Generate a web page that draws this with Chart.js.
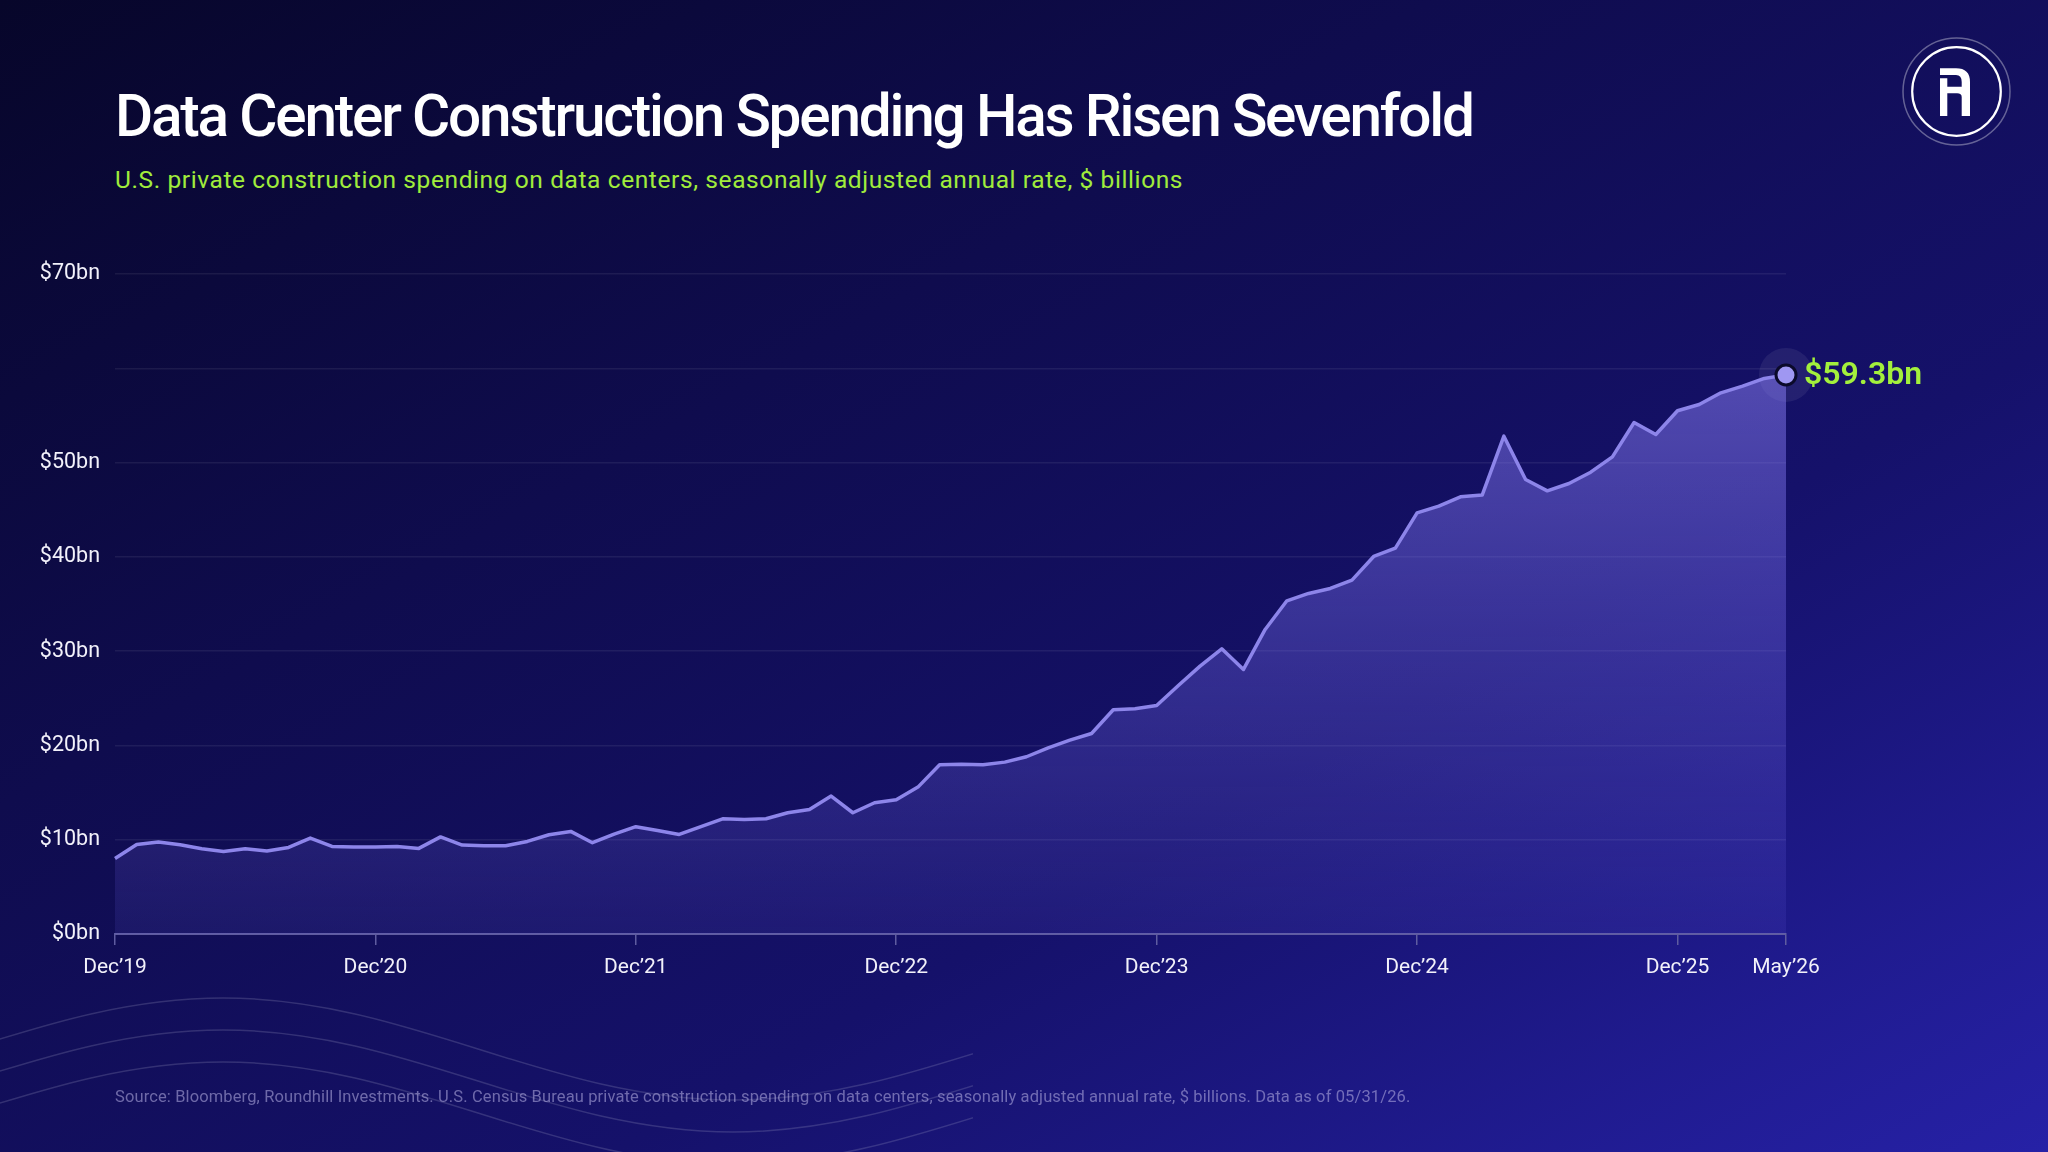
<!DOCTYPE html>
<html>
<head>
<meta charset="utf-8">
<script src="https://cdn.jsdelivr.net/npm/chart.js@4.4.1/dist/chart.umd.min.js"></script>
<style>
  html, body { margin: 0; padding: 0; width: 2048px; height: 1152px; overflow: hidden; }
  body {
    position: relative;
    font-family: Roboto, "Noto Sans", sans-serif;
    background: linear-gradient(to bottom right, #07062a 0%, #0f0c4e 35%, #15116a 65%, #2621a6 100%);
  }
  #waves { position: absolute; left: 0; top: 0; }
  #chart { position: absolute; left: 0; top: 0; }
  .title {
    position: absolute; left: 115px; top: 87px; margin: 0;
    font-size: 58.5px; line-height: 58.5px; font-weight: 500; color: #ffffff;
    letter-spacing: -2.2px; white-space: nowrap;
  }
  .subtitle {
    position: absolute; left: 115px; top: 167.5px;
    font-size: 24.5px; line-height: 24.5px; color: #a0ec3c;
    letter-spacing: 0.6px; white-space: nowrap;
  }
  .note {
    position: absolute; left: 115px; top: 1089px;
    font-size: 16.5px; line-height: 16.5px; color: rgba(185, 180, 230, 0.55);
    letter-spacing: 0.12px; white-space: nowrap;
  }
  #logo { position: absolute; left: 1896px; top: 32px; }
</style>
</head>
<body>

<svg id="waves" width="2048" height="1152">
  <defs><clipPath id="waveClip"><rect x="0" y="900" width="973" height="252"/></clipPath></defs>
  <g clip-path="url(#waveClip)" fill="none" stroke="rgba(175,175,205,0.22)" stroke-width="1.5">
    <path d="M -287 1100 C -101 1100 37 998 223 998 C 409 998 547 1100 733 1100 C 919 1100 1057 998 1243 998"/>
    <path d="M -287 1132 C -101 1132 37 1030 223 1030 C 409 1030 547 1132 733 1132 C 919 1132 1057 1030 1243 1030"/>
    <path d="M -287 1164 C -101 1164 37 1062 223 1062 C 409 1062 547 1164 733 1164 C 919 1164 1057 1062 1243 1062"/>
  </g>
</svg>

<h1 class="title">Data Center Construction Spending Has Risen Sevenfold</h1>
<div class="subtitle">U.S. private construction spending on data centers, seasonally adjusted annual rate, $ billions</div>

<canvas id="chart" width="2048" height="1152"></canvas>

<div class="note">Source: Bloomberg, Roundhill Investments. U.S. Census Bureau private construction spending on data centers, seasonally adjusted annual rate, $ billions. Data as of 05/31/26.</div>

<svg id="logo" width="120" height="120" viewBox="1896 32 120 120">
  <circle cx="1956.5" cy="91.5" r="53.5" fill="none" stroke="rgba(255,255,255,0.35)" stroke-width="1.5"/>
  <circle cx="1956.5" cy="91.5" r="44.3" fill="none" stroke="#ffffff" stroke-width="2.2"/>
  <path fill="#ffffff" d="M1940 68.3 H1956 Q1970 68.3 1970 82 V116 H1961.7 V97 Q1961.7 93.3 1957 93.3 H1947.3 V116 H1940 V78.3 H1947.3 V86.7 H1961.7 V82 Q1961.7 75 1956 75 H1940 Z"/>
</svg>

<script>
// --- monthly data, Dec'19 .. May'26 ($bn, SAAR) ---
const spending = [
  8.0, 9.5, 9.75, 9.47, 9.05, 8.76, 9.05, 8.8, 9.18, 10.17, 9.29, 9.22,
  9.22, 9.29, 9.08, 10.3, 9.43, 9.36, 9.36, 9.82, 10.53, 10.88, 9.68, 10.6,
  11.38, 10.98, 10.56, 11.38, 12.22, 12.15, 12.22, 12.86, 13.21, 14.63, 12.86, 13.92,
  14.24, 15.58, 17.95, 18.0, 17.95, 18.23, 18.8, 19.75, 20.57, 21.27, 23.78, 23.9,
  24.24, 26.36, 28.41, 30.25, 28.06, 32.3, 35.34, 36.12, 36.65, 37.53, 40.04, 40.92,
  44.67, 45.38, 46.37, 46.55, 52.8, 48.2, 47.0, 47.78, 48.98, 50.6, 54.25, 52.98,
  55.5, 56.16, 57.4, 58.1, 58.92, 59.3
];

// x ticks (month index from Dec'19) and their labels
const xTickMonths = [0, 12, 24, 36, 48, 60, 72, 77];
const xTickLabels = ['Dec\u201919', 'Dec\u201920', 'Dec\u201921', 'Dec\u201922', 'Dec\u201923', 'Dec\u201924', 'Dec\u201925', 'May\u201926'];

// y ticks that carry a label ($60bn gridline is left unlabeled)
const yLabeled = [0, 10, 20, 30, 40, 50, 70];

const lastIdx = spending.length - 1;
const lastVal = spending[lastIdx];

// green value tag next to the last point
const endLabel = {
  id: 'endLabel',
  afterDatasetsDraw(chart) {
    const meta = chart.getDatasetMeta(0);
    const pt = meta.data[lastIdx];
    const ctx = chart.ctx;
    ctx.save();
    ctx.font = '600 32px Roboto';
    ctx.fillStyle = '#a3f03c';
    ctx.textBaseline = 'middle';
    ctx.textAlign = 'left';
    ctx.fillText('$' + lastVal.toFixed(1) + 'bn', pt.x + 18, pt.y + 1);
    ctx.restore();
  }
};

const ctx = document.getElementById('chart').getContext('2d');

new Chart(ctx, {
  type: 'line',
  data: {
    datasets: [
      {
        data: spending.map((v, i) => ({ x: i, y: v })),
        borderColor: '#8d85ea',
        borderWidth: 3.5,
        borderJoinStyle: 'round',
        tension: 0,
        fill: 'origin',
        backgroundColor: (c) => {
          const a = c.chart.chartArea;
          if (!a) return 'rgba(120,110,230,0.3)';
          const g = c.chart.ctx.createLinearGradient(0, a.top, 0, a.bottom);
          g.addColorStop(0, 'rgba(140,128,240,0.62)');
          g.addColorStop(0.5, 'rgba(120,110,235,0.38)');
          g.addColorStop(1, 'rgba(110,100,230,0.12)');
          return g;
        },
        pointRadius: (c) => c.dataIndex === lastIdx ? 10 : 0,
        pointBackgroundColor: '#9f97f2',
        pointBorderColor: '#0b0a2a',
        pointBorderWidth: 3,
        clip: false,
        order: 0
      },
      {
        // soft halo behind the last point
        data: [{ x: lastIdx, y: lastVal }],
        showLine: false,
        pointRadius: 27,
        pointBackgroundColor: 'rgba(255,255,255,0.07)',
        pointBorderWidth: 0,
        clip: false,
        order: 1
      }
    ]
  },
  options: {
    responsive: false,
    animation: false,
    layout: { padding: { left: 0, right: 262, top: 274, bottom: 158 } },
    plugins: { legend: { display: false }, tooltip: { enabled: false } },
    scales: {
      x: {
        type: 'linear',
        min: 0,
        max: lastIdx,
        afterBuildTicks(s) { s.ticks = xTickMonths.map(v => ({ value: v })); },
        afterFit(s) { s.height = 60; },
        ticks: {
          autoSkip: false,
          maxRotation: 0,
          padding: 10,
          color: '#f2f1fa',
          font: { family: 'Roboto', size: 21 },
          callback: (v, i) => xTickLabels[i]
        },
        grid: { drawOnChartArea: false, drawTicks: true, tickLength: 11, color: '#5f5ca0', lineWidth: 1.5 },
        border: { display: true, color: '#5f5ca0', width: 2 }
      },
      y: {
        min: 0,
        max: 70,
        afterFit(s) { s.width = 115; },
        ticks: {
          stepSize: 10,
          padding: 15,
          color: '#f2f1fa',
          font: { family: 'Roboto', size: 21.5 },
          callback: (v) => yLabeled.includes(v) ? '$' + v + 'bn' : ''
        },
        grid: {
          drawTicks: false,
          lineWidth: 1.5,
          color: (c) => c.tick && c.tick.value === 0 ? 'rgba(0,0,0,0)' : 'rgba(255,255,255,0.07)'
        },
        border: { display: false }
      }
    }
  },
  plugins: [endLabel]
});
</script>
</body>
</html>
